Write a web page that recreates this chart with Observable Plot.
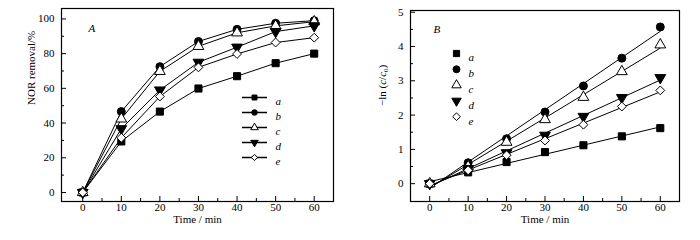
<!DOCTYPE html>
<html><head><meta charset="utf-8">
<script src="https://cdn.jsdelivr.net/npm/d3@7"></script>
<script src="https://cdn.jsdelivr.net/npm/@observablehq/plot@0.6"></script>
<style>
body{margin:0;background:#fff}
#wrap{display:flex;width:700px;height:240px}
</style>
</head><body><div id="wrap"></div>
<script>
// ---- data ----
const time = [0, 10, 20, 30, 40, 50, 60];
const seriesNames = ["a", "b", "c", "d", "e"];
const removalA = [0, 29.4, 46.6, 59.9, 67.0, 74.5, 80.0];
const removalB = [0, 46.6, 72.5, 87.0, 94.0, 97.5, 99.0];
const removalC = [0, 42.4, 69.8, 84.2, 92.0, 96.0, 98.4];
const removalD = [0, 36.7, 59.0, 75.0, 83.7, 92.7, 96.0];
const removalE = [0, 31.5, 55.3, 72.1, 79.8, 86.4, 89.2];
const lnA = [0, 0.33, 0.63, 0.92, 1.12, 1.38, 1.62];
const lnB = [0, 0.61, 1.31, 2.09, 2.85, 3.66, 4.57];
const lnC = [0, 0.50, 1.21, 1.87, 2.52, 3.27, 4.05];
const lnD = [0, 0.44, 0.90, 1.41, 1.96, 2.51, 3.09];
const lnE = [0, 0.39, 0.83, 1.26, 1.72, 2.25, 2.72];
const xTicks = [0, 10, 20, 30, 40, 50, 60];
const xMinor = [5, 15, 25, 35, 45, 55];
const yTicksA = [0, 20, 40, 60, 80, 100];
const yMinorA = [10, 30, 50, 70, 90];
const yTicksB = [0, 1, 2, 3, 4, 5];
const yMinorB = [0.5, 1.5, 2.5, 3.5, 4.5];

const removal = [removalA, removalB, removalC, removalD, removalE];
const lnc = [lnA, lnB, lnC, lnD, lnE];
const rowsA = seriesNames.flatMap((s, i) => time.map((t, j) => ({s, t, v: removal[i][j]})));
const rowsB = seriesNames.flatMap((s, i) => time.map((t, j) => ({s, t, v: lnc[i][j]})));

// ---- symbols ----
const triangleDown = {
  draw(ctx, size) {
    const s = Math.sqrt(4 * size / Math.sqrt(3)), h = s * Math.sqrt(3) / 2;
    ctx.moveTo(-s / 2, -h / 3); ctx.lineTo(s / 2, -h / 3); ctx.lineTo(0, 2 * h / 3); ctx.closePath();
  }
};
const hline = { draw(ctx) { ctx.moveTo(-12.5, 0); ctx.lineTo(12.5, 0); } };
const symbolRange = ["square", "circle", "triangle", triangleDown, "diamond2"];
const fillOf = {a: "black", b: "black", c: "white", d: "black", e: "white"};

const FONT = "Liberation Serif";
const font = {fontFamily: FONT, fontSize: "11px", background: "white", overflow: "visible"};
const fmt = d => String(d);

function axes(ticksX, minorX, ticksY, minorY) {
  return [
    Plot.axisX({ticks: ticksX, tickSize: 0, tickPadding: 2, tickFormat: fmt, label: null}),
    Plot.axisX({ticks: ticksX, tickSize: -5, tickFormat: () => "", label: null}),
    Plot.axisX({ticks: minorX, tickSize: -3, tickFormat: () => "", label: null}),
    Plot.axisY({ticks: ticksY, tickSize: 0, tickPadding: 7, tickFormat: fmt, label: null}),
    Plot.axisY({ticks: ticksY, tickSize: -5, tickFormat: () => "", label: null}),
    Plot.axisY({ticks: minorY, tickSize: -3, tickFormat: () => "", label: null}),
    Plot.frame({stroke: "black", strokeWidth: 1.2})
  ];
}

function legendMarks(x0, y0, step, withLine, r, labelDx) {
  return seriesNames.flatMap((s, i) => {
    const m = [];
    if (withLine) m.push(Plot.dot([s], {frameAnchor: "top-left", dx: x0, dy: y0 + i * step, symbol: () => hline, stroke: "black", fill: "none", r: 3}));
    m.push(Plot.dot([s], {frameAnchor: "top-left", dx: x0, dy: y0 + i * step, symbol: d => d, fill: d => fillOf[d], stroke: "black", strokeWidth: 1, r}));
    m.push(Plot.text([s], {frameAnchor: "top-left", dx: labelDx, dy: y0 + i * step, text: d => d, fontStyle: "italic", fontSize: 11, textAnchor: "start"}));
    return m;
  });
}

const chartA = Plot.plot({
  width: 350, height: 240,
  marginLeft: 61, marginRight: 17, marginTop: 8, marginBottom: 39,
  style: font,
  x: {domain: [-5.5, 65], axis: null},
  y: {domain: [-5.2, 106], axis: null},
  symbol: {domain: seriesNames, range: symbolRange},
  color: {type: "identity"},
  marks: [
    ...axes(xTicks, xMinor, yTicksA, yMinorA),
    Plot.line(rowsA, {x: "t", y: "v", z: "s", stroke: "black", strokeWidth: 1}),
    Plot.dot(rowsA, {x: "t", y: "v", symbol: "s", fill: d => fillOf[d.s], stroke: "black", strokeWidth: 1, r: 4}),
    ...legendMarks(193, 89, 15, true, 2.8, 214),
    Plot.text(["A"], {frameAnchor: "top-left", dx: 27, dy: 16, text: d => d, fontStyle: "italic", fontSize: 11}),
    Plot.text(["NOR removal/%"], {frameAnchor: "left", dx: -30, rotate: -90, text: d => d, fontSize: 11}),
    Plot.text(["Time / min"], {frameAnchor: "bottom", dy: 21, text: d => d, fontSize: 11})
  ]
});

const chartB = Plot.plot({
  width: 350, height: 240,
  marginLeft: 60, marginRight: 21, marginTop: 10, marginBottom: 39,
  style: font,
  x: {domain: [-5, 65], axis: null},
  y: {domain: [-0.52, 5.05], axis: null},
  symbol: {domain: seriesNames, range: symbolRange},
  color: {type: "identity"},
  marks: [
    ...axes(xTicks, xMinor, yTicksB, yMinorB),
    Plot.linearRegressionY(rowsB, {x: "t", y: "v", z: "s", stroke: "black", strokeWidth: 1, ci: 0}),
    Plot.dot(rowsB, {x: "t", y: "v", symbol: "s", fill: d => fillOf[d.s], stroke: "black", strokeWidth: 1, r: 4}),
    ...legendMarks(46, 43, 15.8, false, 3.5, 58),
    Plot.text(["B"], {frameAnchor: "top-left", dx: 23, dy: 15, text: d => d, fontStyle: "italic", fontSize: 11}),
    Plot.text(["ylab"], {frameAnchor: "left", dx: -28, rotate: -90, text: d => "−ln (c/c0)", fontSize: 11, className: "ylabB"}),
    Plot.text(["Time / min"], {frameAnchor: "bottom", dy: 21, text: d => d, fontSize: 11})
  ]
});

const wrap = document.getElementById("wrap");
wrap.append(chartA, chartB);
d3.select(chartB).selectAll(".ylabB text").each(function() {
  this.innerHTML = '−ln (<tspan font-style="italic">c</tspan>/<tspan font-style="italic">c</tspan><tspan font-size="7" dy="2">0</tspan><tspan dy="-2">)</tspan>';
});
d3.selectAll("#wrap svg, #wrap svg g, #wrap svg text")
  .attr("font-family", FONT)
  .style("font-family", FONT);
</script>
</body></html>
